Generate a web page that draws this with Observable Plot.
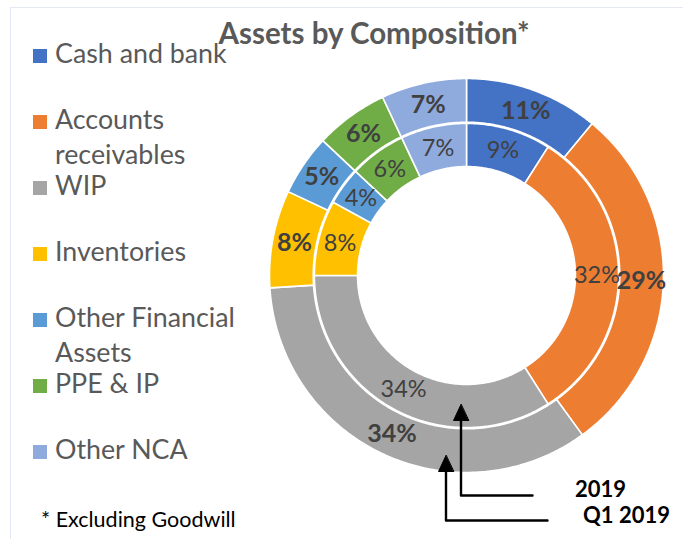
<!DOCTYPE html>
<html>
<head>
<meta charset="utf-8">
<script src="https://cdn.jsdelivr.net/npm/d3@7"></script>
<script src="https://cdn.jsdelivr.net/npm/@observablehq/plot@0.6"></script>
<style>
  html, body { margin: 0; padding: 0; background: #fff; }
  #wrap { position: relative; width: 683px; height: 539px; overflow: hidden; font-family: Lato, "Open Sans", sans-serif; }
  #frame { position: absolute; left: 10px; top: 7px; width: 700px; height: 560px; border: 1px solid #e3e8f4; box-sizing: border-box; }
  #chart { position: absolute; left: 0; top: 0; }
  .t { position: absolute; white-space: nowrap; line-height: 1; }
  #title { font-weight: 700; color: #595959; font-size: 29.5px; left: 374px; transform: translateX(-50%); }
  .leg { color: #595959; font-size: 26.8px; left: 55px; }
  .sw { position: absolute; width: 14px; height: 14px; left: 33px; }
  .ann { font-weight: 700; color: #000; font-size: 22px; }
  #foot { color: #000; font-size: 21.5px; left: 41px; }
</style>
</head>
<body>
<div id="wrap">
  <div id="frame"></div>
  <div id="chart"></div>
</div>
<script>
// ---- data ----
const categories = ["Cash and bank", "Accounts receivables", "WIP", "Inventories", "Other Financial Assets", "PPE & IP", "Other NCA"];
const legendLines = [["Cash and bank"], ["Accounts", "receivables"], ["WIP"], ["Inventories"], ["Other Financial", "Assets"], ["PPE & IP"], ["Other NCA"]];
const valuesQ1_2019 = [11, 29, 34, 8, 5, 6, 7];   // outer ring
const values2019 = [9, 32, 34, 8, 4, 6, 7];       // inner ring
const colors = ["#4472C4", "#ED7D31", "#A5A5A5", "#FFC000", "#5B9BD5", "#70AD47", "#8FAADC"];
const seriesNames = ["2019", "Q1 2019"];
const titleText = "Assets by Composition*";
const footText = "* Excluding Goodwill";

// ---- layout ----
const W = 683, H = 539;
const cx = 466, cy = 275, R = 197;          // pixel centre and outer radius
const rings = {inner: [0.553, 0.772], outer: [0.778, 1.0]};

function slices(values, r0, r1, ring) {
  const total = d3.sum(values);
  let acc = 0;
  return values.map((v, i) => {
    const a0 = acc / total * 2 * Math.PI;
    acc += v;
    const a1 = acc / total * 2 * Math.PI;
    const n = Math.max(8, Math.ceil((a1 - a0) / 0.01));
    const pts = [];
    for (let k = 0; k <= n; k++) { const a = a0 + (a1 - a0) * k / n; pts.push({x: r1 * Math.sin(a), y: r1 * Math.cos(a)}); }
    for (let k = n; k >= 0; k--) { const a = a0 + (a1 - a0) * k / n; pts.push({x: r0 * Math.sin(a), y: r0 * Math.cos(a)}); }
    const am = (a0 + a1) / 2, rm = (r0 + r1) / 2;
    return {category: categories[i], value: v, color: colors[i], ring, pts, lx: rm * Math.sin(am), ly: rm * Math.cos(am), label: v + "%"};
  });
}
const outer = slices(valuesQ1_2019, rings.outer[0], rings.outer[1], "outer");
const inner = slices(values2019, rings.inner[0], rings.inner[1], "inner");

// annotation arrows (leader from label to each ring), in unit coordinates
const px = (x) => (x - cx) / R, py = (y) => (cy - y) / R;
function arrowPath(xv, tipR, yh, xr) {
  return [{x: xr, y: yh}, {x: xv, y: yh}, {x: xv, y: -tipR}];
}
function head(xv, tipR) {
  const h = 16 / R, w = 7.5 / R;
  return [{x: xv, y: -tipR}, {x: xv - w, y: -tipR - h}, {x: xv + w, y: -tipR - h}];
}
const arrInner = {xv: px(460.5), tip: (cy - 404) / -R, yh: py(495), xr: px(532)};
const arrOuter = {xv: px(445.5), tip: (cy - 455) / -R, yh: py(520), xr: px(547)};

const marks = [];
for (const s of [...outer, ...inner]) {
  marks.push(Plot.line(s.pts, {x: "x", y: "y", curve: "linear-closed", fill: s.color, stroke: "#ffffff", strokeWidth: 1.6}));
}
marks.push(Plot.text(outer, {x: "lx", y: "ly", text: "label", fill: "#404040", fontSize: 25, fontWeight: 700}));
marks.push(Plot.text(inner, {x: "lx", y: "ly", text: "label", fill: "#404040", fontSize: 23.5, fontWeight: 400}));
for (const a of [arrInner, arrOuter]) {
  const tipR = a.tip;
  marks.push(Plot.line(arrowPath(a.xv, tipR + 14 / R, a.yh, a.xr), {x: "x", y: "y", stroke: "#000", strokeWidth: 2.4}));
  marks.push(Plot.line(head(a.xv, tipR), {x: "x", y: "y", curve: "linear-closed", fill: "#000", stroke: "#000", strokeWidth: 1}));
}

const chart = Plot.plot({
  width: W, height: H,
  marginTop: 0, marginRight: 0, marginBottom: 0, marginLeft: 0,
  x: {domain: [-cx / R, (W - cx) / R], axis: null},
  y: {domain: [-(H - cy) / R, cy / R], axis: null},
  style: {fontFamily: "Lato, 'Open Sans', sans-serif", background: "transparent", overflow: "visible"},
  marks
});
document.getElementById("chart").appendChild(chart);

// ---- HTML text: title, legend, annotations, footnote ----
const wrap = document.getElementById("wrap");
function addText(cls, text, baseline, fs, extra = {}) {
  const d = document.createElement("div");
  d.className = "t " + cls;
  d.textContent = text;
  d.style.top = (baseline - 0.87 * fs) + "px";
  Object.assign(d.style, extra);
  wrap.appendChild(d);
  return d;
}
const titleEl = addText("", titleText, 44, 29.5);
titleEl.id = "title";

const legTop0 = 49, legStep = 66, lineGap = 35, legFs = 26.8;
legendLines.forEach((lines, i) => {
  const top = legTop0 + i * legStep;
  const sw = document.createElement("div");
  sw.className = "sw";
  sw.style.top = top + "px";
  sw.style.background = colors[i];
  wrap.appendChild(sw);
  lines.forEach((ln, j) => addText("leg", ln, top + 14.5 + j * lineGap, legFs));
});

addText("ann", seriesNames[0], 497, 22, {left: "575px"});
addText("ann", seriesNames[1], 523, 22, {left: "583px"});
const f = addText("", footText, 528, 21.5);
f.id = "foot";
</script>
</body>
</html>
